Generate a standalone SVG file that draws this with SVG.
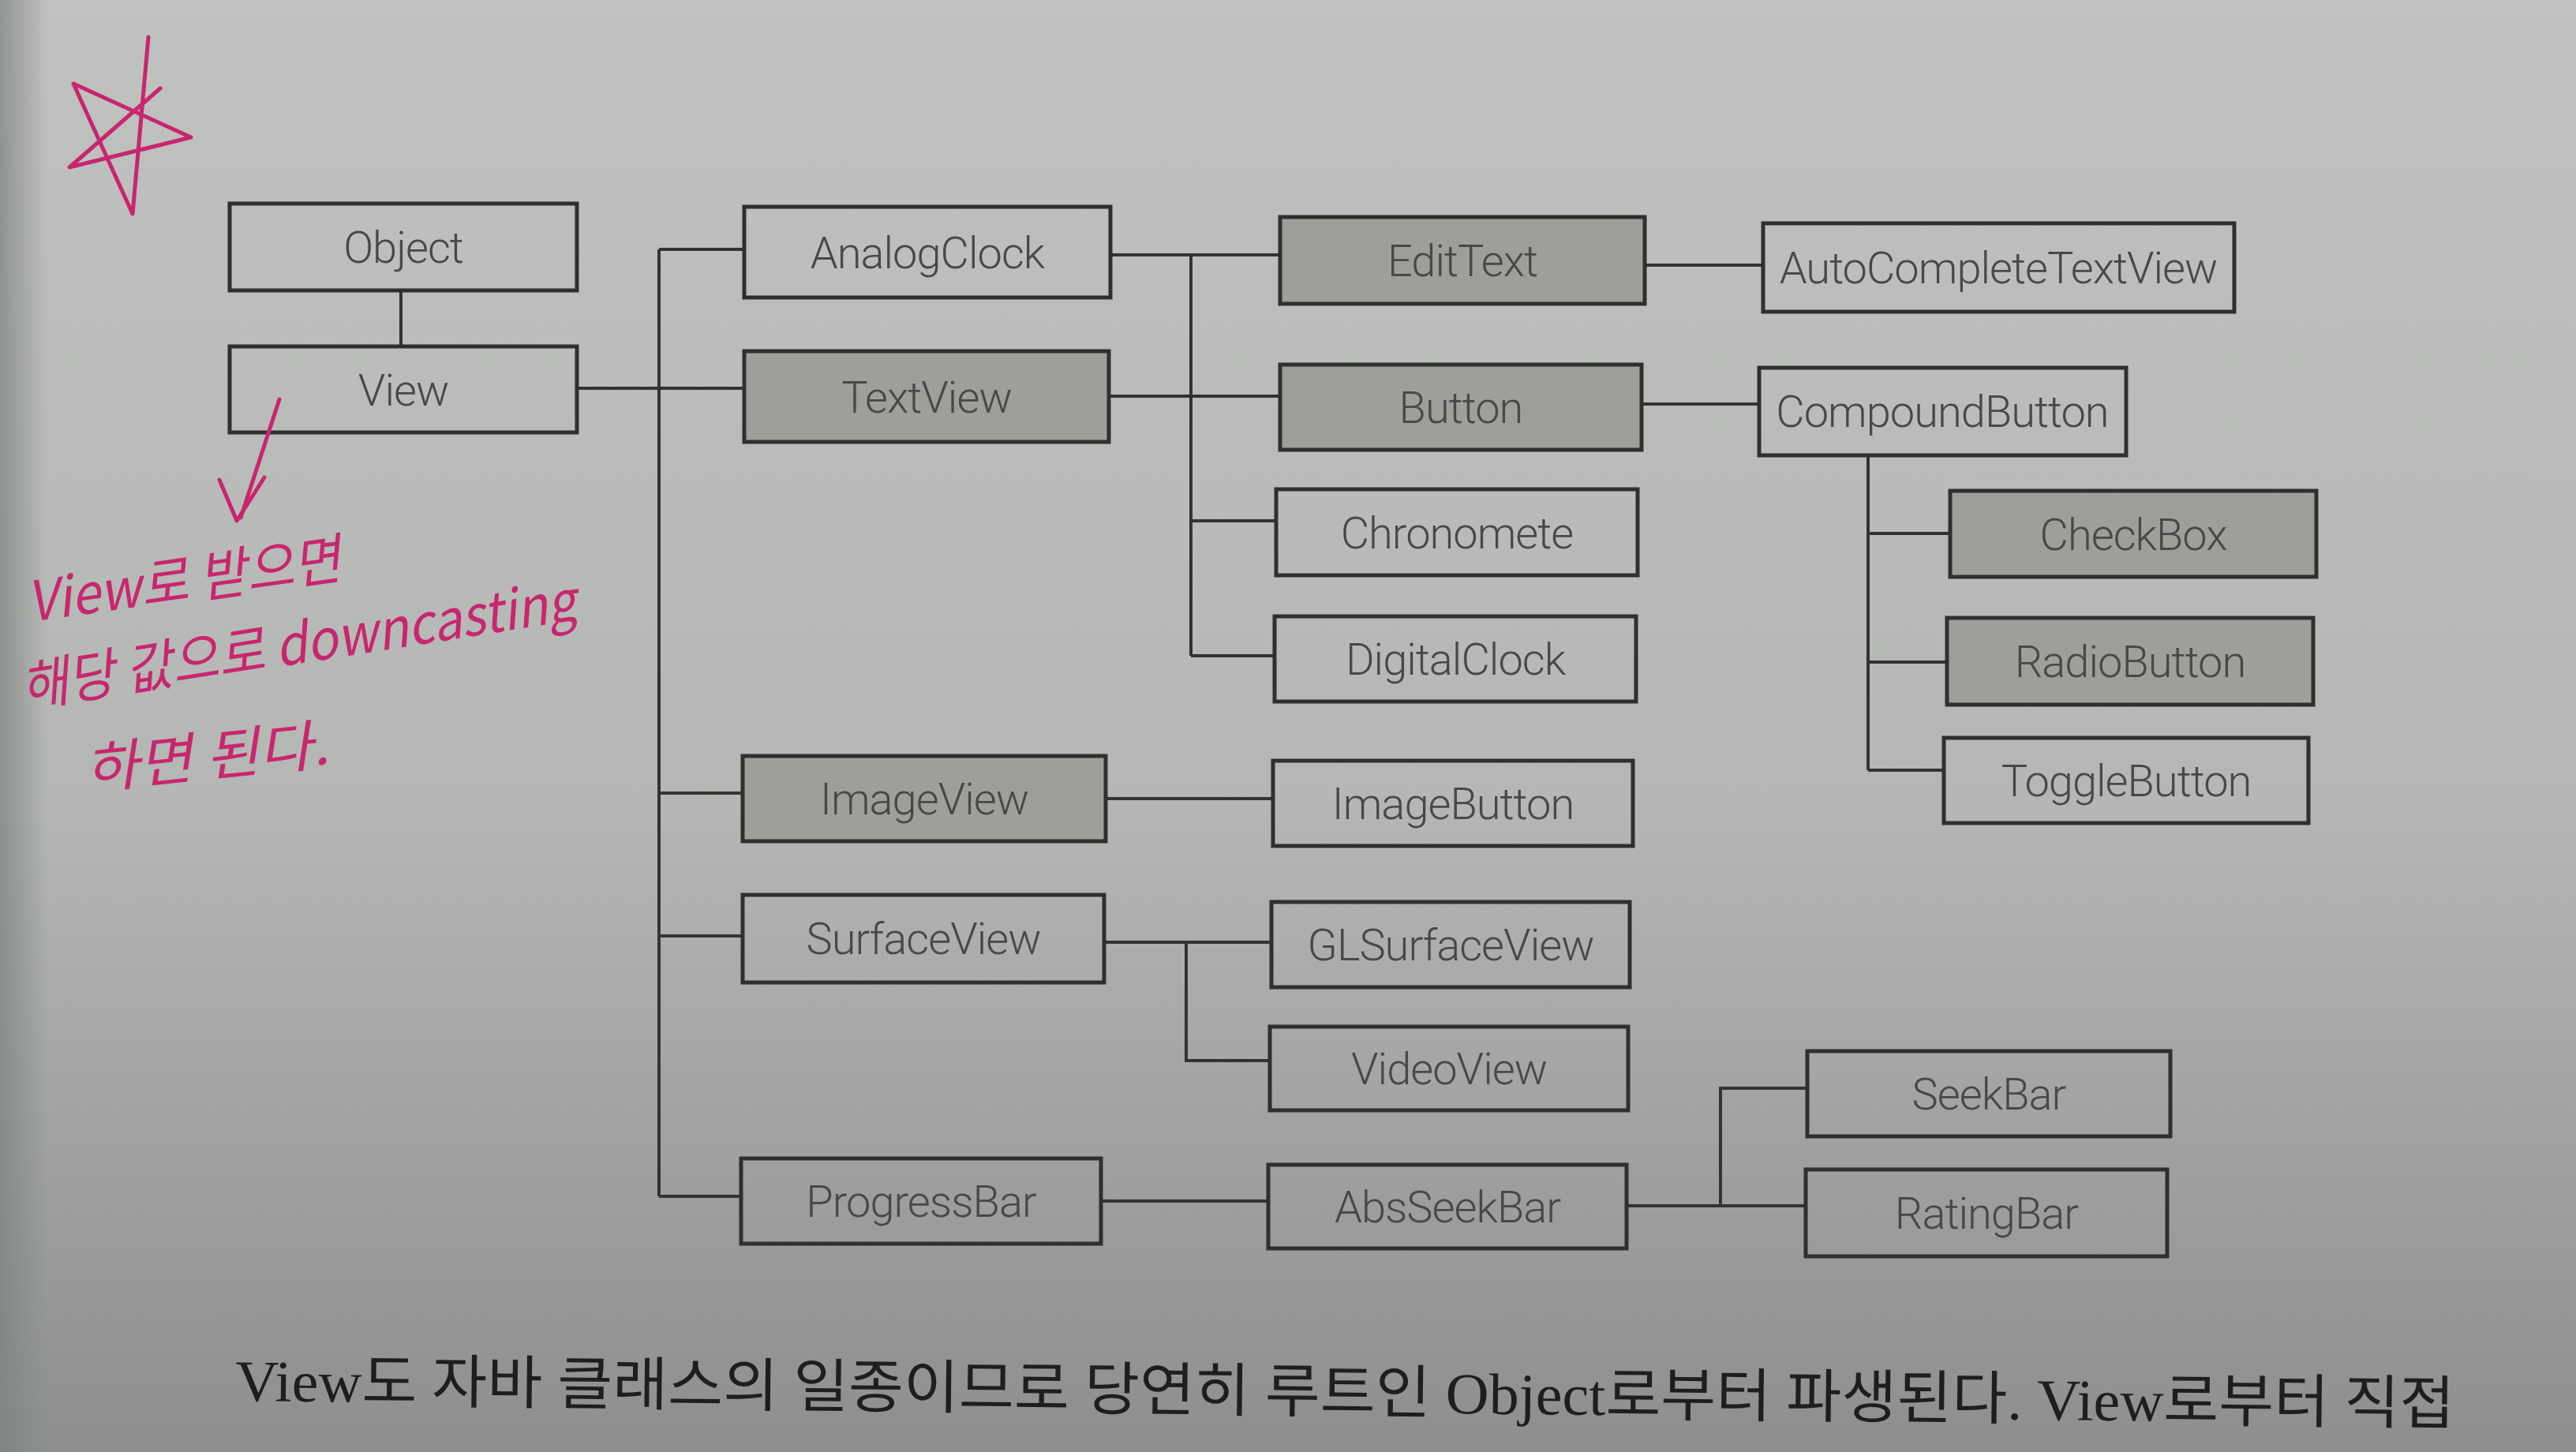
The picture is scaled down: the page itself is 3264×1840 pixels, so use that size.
<svg xmlns="http://www.w3.org/2000/svg" width="3264" height="1840" viewBox="0 0 3264 1840">
<defs>
<linearGradient id="bg" x1="0" y1="0" x2="0" y2="1">
<stop offset="0" stop-color="#c0c2bf"/>
<stop offset="0.55" stop-color="#b4b7b3"/>
<stop offset="1" stop-color="#8c8f8b"/>
</linearGradient>
<linearGradient id="edge" x1="0" y1="0" x2="1" y2="0">
<stop offset="0" stop-color="#7d817d" stop-opacity="0.7"/>
<stop offset="1" stop-color="#7d817d" stop-opacity="0"/>
</linearGradient>
<style>
.box{fill:none;stroke:#2f2f2f;stroke-width:5}
.shaded{fill:#9d9f9b;stroke:#2f2f2f;stroke-width:5}
.lbl{font-family:Roboto,"Liberation Sans",Arial,sans-serif;font-weight:300;font-size:56px;letter-spacing:-1px;fill:#484848;text-anchor:middle}
.con{fill:none;stroke:#333;stroke-width:4}
.pen{fill:none;stroke:#c8266e;stroke-width:5;stroke-linecap:round;stroke-linejoin:round}
.hand{font-family:"Noto Sans CJK KR","Noto Sans",sans-serif;fill:#c8266e;font-size:70px;font-style:italic}
.cap{font-family:"Liberation Serif","Noto Sans CJK KR",serif;font-size:74px;fill:#1e1e1e}
</style>
</defs>
<rect width="3264" height="1840" fill="url(#bg)"/>
<rect width="60" height="1840" fill="url(#edge)"/>

<g id="connectors">
<path class="con" d="M508,368 V439"/>
<path class="con" d="M731,492 H943"/>
<path class="con" d="M835,316 V1516"/>
<path class="con" d="M835,316 H943"/>
<path class="con" d="M835,1005 H941"/>
<path class="con" d="M835,1186 H941"/>
<path class="con" d="M835,1516 H939"/>
<path class="con" d="M1407,323 H1622"/>
<path class="con" d="M1509,323 V831"/>
<path class="con" d="M1405,502 H1622"/>
<path class="con" d="M1509,660 H1617"/>
<path class="con" d="M1509,831 H1615"/>
<path class="con" d="M2084,336 H2234"/>
<path class="con" d="M2080,512 H2229"/>
<path class="con" d="M2367,577 V976"/>
<path class="con" d="M2367,676 H2471"/>
<path class="con" d="M2367,839 H2467"/>
<path class="con" d="M2367,976 H2463"/>
<path class="con" d="M1401,1012 H1613"/>
<path class="con" d="M1399,1194 H1611"/>
<path class="con" d="M1503,1194 V1344 H1609"/>
<path class="con" d="M1395,1522 H1607"/>
<path class="con" d="M2061,1528 H2288"/>
<path class="con" d="M2180,1528 V1379 H2290"/>
</g>

<g id="Object"><rect class="box" x="291" y="258" width="440" height="110"/><text class="lbl" x="511" y="333">Object</text></g>
<g id="View"><rect class="box" x="291" y="439" width="440" height="109"/><text class="lbl" x="511" y="514">View</text></g>
<g id="AnalogClock"><rect class="box" x="943" y="262" width="464" height="115"/><text class="lbl" x="1175" y="340">AnalogClock</text></g>
<g id="TextView"><rect class="shaded" x="943" y="445" width="462" height="115"/><text class="lbl" x="1174" y="523">TextView</text></g>
<g id="ImageView"><rect class="shaded" x="941" y="958" width="460" height="108"/><text class="lbl" x="1171" y="1032">ImageView</text></g>
<g id="SurfaceView"><rect class="box" x="941" y="1134" width="458" height="111"/><text class="lbl" x="1170" y="1209">SurfaceView</text></g>
<g id="ProgressBar"><rect class="box" x="939" y="1468" width="456" height="108"/><text class="lbl" x="1167" y="1542">ProgressBar</text></g>
<g id="EditText"><rect class="shaded" x="1622" y="275" width="462" height="110"/><text class="lbl" x="1853" y="350">EditText</text></g>
<g id="Button"><rect class="shaded" x="1622" y="462" width="458" height="108"/><text class="lbl" x="1851" y="536">Button</text></g>
<g id="Chronomete"><rect class="box" x="1617" y="620" width="458" height="109"/><text class="lbl" x="1846" y="695">Chronomete</text></g>
<g id="DigitalClock"><rect class="box" x="1615" y="781" width="458" height="108"/><text class="lbl" x="1844" y="855">DigitalClock</text></g>
<g id="ImageButton"><rect class="box" x="1613" y="964" width="456" height="108"/><text class="lbl" x="1841" y="1038">ImageButton</text></g>
<g id="GLSurfaceView"><rect class="box" x="1611" y="1143" width="454" height="108"/><text class="lbl" x="1838" y="1217">GLSurfaceView</text></g>
<g id="VideoView"><rect class="box" x="1609" y="1301" width="454" height="106"/><text class="lbl" x="1836" y="1374">VideoView</text></g>
<g id="AbsSeekBar"><rect class="box" x="1607" y="1476" width="454" height="106"/><text class="lbl" x="1834" y="1549">AbsSeekBar</text></g>
<g id="AutoCompleteTextView"><rect class="box" x="2234" y="283" width="597" height="112"/><text class="lbl" x="2532" y="359">AutoCompleteTextView</text></g>
<g id="CompoundButton"><rect class="box" x="2229" y="466" width="465" height="111"/><text class="lbl" x="2461" y="541">CompoundButton</text></g>
<g id="CheckBox"><rect class="shaded" x="2471" y="622" width="464" height="109"/><text class="lbl" x="2703" y="697">CheckBox</text></g>
<g id="RadioButton"><rect class="shaded" x="2467" y="783" width="464" height="110"/><text class="lbl" x="2699" y="858">RadioButton</text></g>
<g id="ToggleButton"><rect class="box" x="2463" y="935" width="462" height="108"/><text class="lbl" x="2694" y="1009">ToggleButton</text></g>
<g id="SeekBar"><rect class="box" x="2290" y="1332" width="460" height="108"/><text class="lbl" x="2520" y="1406">SeekBar</text></g>
<g id="RatingBar"><rect class="box" x="2288" y="1482" width="458" height="110"/><text class="lbl" x="2517" y="1557">RatingBar</text></g>

<g id="annotations">
<path class="pen" d="M188,47 L168,271 L93,106 L242,174 L88,212 L203,112"/>
<path class="pen" d="M354,506 Q330,580 305,656"/>
<path class="pen" d="M278,608 L300,660 L335,605"/>
<text class="hand" x="38" y="788" transform="rotate(-8 38 788)" textLength="400" lengthAdjust="spacingAndGlyphs">View로 받으면</text>
<text class="hand" x="31" y="896" transform="rotate(-9 31 896)" textLength="710" lengthAdjust="spacingAndGlyphs">해당 값으로 downcasting</text>
<text class="hand" x="110" y="1000" transform="rotate(-6 110 1000)" textLength="310" lengthAdjust="spacingAndGlyphs">하면 된다.</text>
</g>

<text class="cap" x="298" y="1775" transform="rotate(0.6 298 1775)" textLength="2812" lengthAdjust="spacingAndGlyphs">View도 자바 클래스의 일종이므로 당연히 루트인 Object로부터 파생된다. View로부터 직접</text>
</svg>
